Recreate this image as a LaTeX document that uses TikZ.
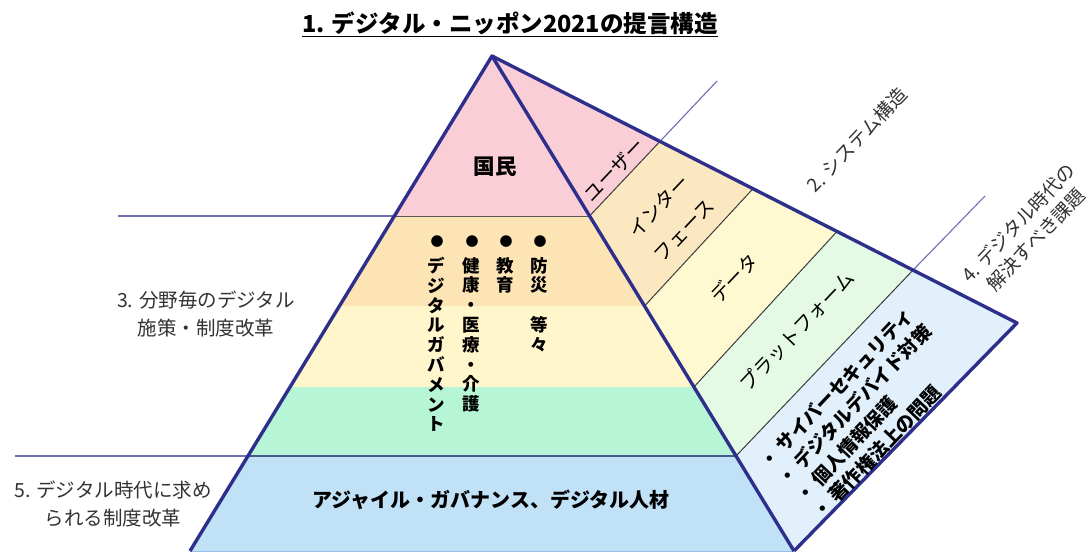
\documentclass[tikz,border=0pt]{standalone}
\usepackage{fontspec}
\setmainfont{Noto Sans CJK JP}
\definecolor{outline}{RGB}{46,46,140}
\definecolor{cpink}{RGB}{249,206,214}
\definecolor{cpeach}{RGB}{252,228,181}
\definecolor{cyellow}{RGB}{255,246,204}
\definecolor{cgreen}{RGB}{182,245,214}
\definecolor{cblue}{RGB}{192,225,246}
\definecolor{rpeach}{RGB}{252,232,192}
\definecolor{ryellow}{RGB}{255,249,210}
\definecolor{rgreen}{RGB}{228,250,228}
\definecolor{rblue}{RGB}{225,240,251}
\definecolor{guide}{RGB}{110,110,180}
\definecolor{divider}{RGB}{60,60,60}
\definecolor{midline}{RGB}{70,90,140}
\definecolor{labeltext}{RGB}{50,50,50}
\begin{document}
\begin{tikzpicture}[x=1pt,y=-1pt,
  outl/.style={draw=outline,line width=3.4pt,line join=round},
  divl/.style={draw=divider,line width=1pt},
  guidel/.style={draw=guide,line width=1.1pt},
  lbl/.style={font=\fontsize{19}{24}\selectfont,text=labeltext,inner sep=0pt,align=center},
  blbl/.style={font=\bfseries\fontsize{20}{24}\selectfont,inner sep=0pt,align=center},
  flbl/.style={font=\fontsize{19.5}{24}\selectfont,inner sep=0pt,align=center,rotate=46.5},
  vcol/.style={font=\bfseries\fontsize{17.5}{19.8}\selectfont,inner sep=0pt,align=center,anchor=north},
  bul/.style={font=\fontsize{13}{13}\selectfont,inner sep=0pt}
]
\useasboundingbox (0,0) rectangle (1092,553);
% coordinates
\coordinate (A) at (492,56);
\coordinate (L216) at (394.4,216); \coordinate (R216) at (589.6,216);
\coordinate (L306) at (339.5,306); \coordinate (R306) at (644.5,306);
\coordinate (L387) at (290.1,387); \coordinate (R387) at (693.9,387);
\coordinate (L456) at (248,456);   \coordinate (R456) at (736,456);
\coordinate (BL) at (190,551);     \coordinate (BR) at (794,551);
\coordinate (U1) at (660,141.4);
\coordinate (U2) at (753,188.7);
\coordinate (U3) at (837,231.5);
\coordinate (U4) at (913,270.1);
\coordinate (RC) at (1017,323);
\coordinate (G1) at (717,81);
\coordinate (G4) at (985,196);
\coordinate (G216) at (118,216);
\coordinate (G456) at (15,456);
% front face fills
\fill[cpink] (A) -- (L216) -- (R216) -- cycle;
\fill[cpeach] (L216) -- (R216) -- (R306) -- (L306) -- cycle;
\fill[cyellow] (L306) -- (R306) -- (R387) -- (L387) -- cycle;
\fill[cgreen] (L387) -- (R387) -- (R456) -- (L456) -- cycle;
\fill[cblue] (L456) -- (R456) -- (BR) -- (BL) -- cycle;
% right face fills
\fill[cpink] (A) -- (R216) -- (U1) -- cycle;
\fill[rpeach] (R216) -- (R306) -- (U2) -- (U1) -- cycle;
\fill[ryellow] (R306) -- (R387) -- (U3) -- (U2) -- cycle;
\fill[rgreen] (R387) -- (R456) -- (U4) -- (U3) -- cycle;
\fill[rblue] (R456) -- (BR) -- (RC) -- (U4) -- cycle;
% lines
\draw[guidel] (G216) -- (L216);
\draw[draw=gray!70!black,line width=0.8pt] (L216) -- (R216);
\draw[guidel] (G456) -- (L456);
\draw[draw=midline,line width=1.8pt] (L456) -- (R456);
\draw[divl] (R216) -- (U1);
\draw[divl] (R306) -- (U2);
\draw[divl] (R387) -- (U3);
\draw[divl] (R456) -- (U4);
\draw[guidel] (U1) -- (G1);
\draw[guidel] (U4) -- (G4);
\draw[draw={rgb,255:red,150;green,190;blue,230},line width=1pt] (BL) -- (BR);
\draw[outl] (BL) -- (A) -- (BR);
\draw[outl] (A) -- (RC) -- (BR);
% texts
\node[font=\bfseries\fontsize{23.5}{26}\selectfont,inner sep=0pt] (title) at (510,24) {\underline{1. デジタル・ニッポン2021の提言構造}};
\node[blbl,font=\bfseries\fontsize{21.5}{24}\selectfont] (kokumin) at (495,167) {国民};
\node[bul] (b1) at (540,242) {●};
\node[bul] (b2) at (506,242) {●};
\node[bul] (b3) at (472,242) {●};
\node[bul] (b4) at (437,242) {●};
\node[vcol] (c1) at (539,257) {防\\災\\　\\等\\々};
\node[vcol] (c2) at (505,257) {教\\育};
\node[vcol] (c3) at (471,257) {健\\康\\・\\医\\療\\・\\介\\護};
\node[vcol] (c4) at (436,257) {デ\\ジ\\タ\\ル\\ガ\\バ\\メ\\ン\\ト};
\node[blbl] (agile) at (491,500) {アジャイル・ガバナンス、デジタル人材};
\node[flbl] (user) at (614,170) {ユーザー};
\node[flbl,font=\fontsize{19.5}{35}\selectfont] (iface) at (671,218) {インター\\フェース};
\node[flbl] (data) at (734,278) {データ};
\node[flbl] (pf) at (797,331) {プラットフォーム};
\node[font=\bfseries\fontsize{19}{24.3}\selectfont,inner sep=0pt,align=left,anchor=west,rotate=46.5] (issues) at (790,491) {・ サイバーセキュリティ\\・ デジタルデバイド対策\\・ 個人情報保護\\・ 著作権法上の問題};
\node[lbl,rotate=46.5] (sys) at (857,140) {2. システム構造};
\node[lbl,rotate=46.5] (issuelbl) at (1027,231) {4. デジタル時代の\\解決すべき課題};
\node[lbl,font=\fontsize{19.5}{28}\selectfont] (field) at (206,314) {3. 分野毎のデジタル\\施策・制度改革};
\node[lbl,font=\fontsize{19.5}{28}\selectfont] (inst) at (113,504) {5. デジタル時代に求め\\られる制度改革};
\end{tikzpicture}
\end{document}
